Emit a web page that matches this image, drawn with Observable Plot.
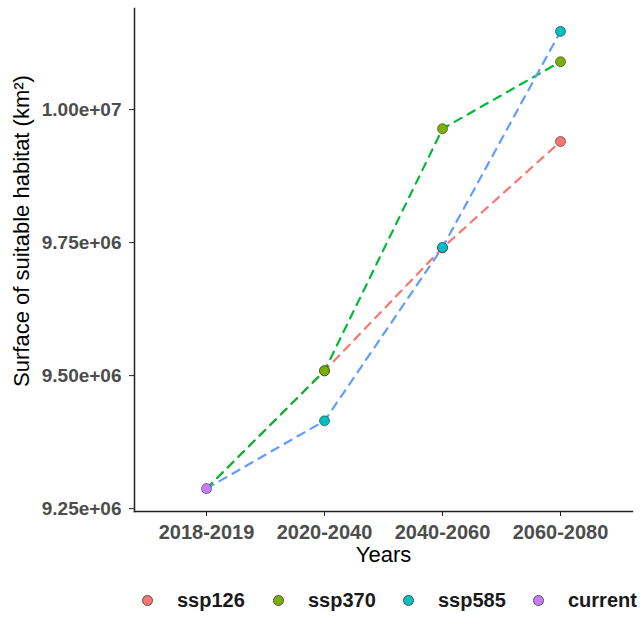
<!DOCTYPE html>
<html>
<head>
<meta charset="utf-8">
<script src="https://cdn.jsdelivr.net/npm/d3@7"></script>
<script src="https://cdn.jsdelivr.net/npm/@observablehq/plot@0.6"></script>
<style>
  body { margin: 0; background: #fff; font-family: "Liberation Sans", Arial, sans-serif; }
  #legend { height: 50px; position: relative; width: 642px; }
  .item { position: absolute; top: 0; height: 50px; display: flex; align-items: center; white-space: nowrap; }
  .dot { width: 11px; height: 11px; border-radius: 50%; box-sizing: border-box; border: 0.6px solid #555; margin-right: 24.5px; }
  .lab { font-size: 20px; font-weight: bold; color: #1a1a1a; }
</style>
</head>
<body>
<div id="chart"></div>
<div id="legend"></div>
<script>
const periods = ["2018-2019", "2020-2040", "2040-2060", "2060-2080"];
const scenarios = ["ssp126", "ssp370", "ssp585"];
const currentValue = 9.2876e6;
// values for 2020-2040, 2040-2060, 2060-2080
const ssp126 = [9.509e6, 9.740e6, 9.940e6];
const ssp370 = [9.509e6, 9.964e6, 10.090e6];
const ssp585 = [9.415e6, 9.741e6, 10.147e6];
const yTicks = [9.25e6, 9.5e6, 9.75e6, 1.0e7];
const pointColors = ["#F8766D", "#7CAE00", "#00BFC4", "#C77CFF"];
const lineColors = ["#F8766D", "#00BA38", "#619CFF"];
const legendKeys = ["ssp126", "ssp370", "ssp585", "current"];

const seriesValues = {ssp126, ssp370, ssp585};
const lineData = [];
const pointData = [];
for (const s of scenarios) {
  lineData.push({scenario: s, period: periods[0], value: currentValue});
  seriesValues[s].forEach((v, i) => {
    lineData.push({scenario: s, period: periods[i + 1], value: v});
    pointData.push({scenario: s, period: periods[i + 1], value: v});
  });
}
pointData.push({scenario: "current", period: periods[0], value: currentValue});

function sci(v) {
  const [m, e] = v.toExponential(2).split("e");
  const sign = e[0];
  const digits = e.slice(1).padStart(2, "0");
  return m + "e" + sign + digits;
}

const lineMarks = scenarios.map((s, i) =>
  Plot.lineY(lineData.filter(d => d.scenario === s), {
    x: "period", y: "value", stroke: lineColors[i], strokeWidth: 2.2, strokeDasharray: "8,7"
  })
);

const chart = Plot.plot({
  width: 642,
  height: 575,
  marginLeft: 134,
  marginRight: 10,
  marginTop: 8,
  marginBottom: 64,
  style: {fontFamily: "Liberation Sans, Arial, sans-serif", background: "#fff"},
  x: {type: "point", domain: periods, padding: 0.6},
  y: {domain: [9.2446e6, 10.19e6]},
  color: {domain: legendKeys, range: pointColors},
  marks: [
    ...lineMarks,
    Plot.dot(pointData, {x: "period", y: "value", fill: "scenario", r: 5, stroke: "#333", strokeWidth: 0.6}),
    Plot.frame({anchor: "left", stroke: "#222", strokeWidth: 1.5}),
    Plot.frame({anchor: "bottom", stroke: "#222", strokeWidth: 1.5}),
    Plot.axisY({ticks: yTicks, tickFormat: sci, tickSize: 5, tickPadding: 8, fontSize: 19, fontWeight: "bold", color: "#4D4D4D", stroke: "#222", label: null}),
    Plot.axisX({tickSize: 5, tickPadding: 8, fontSize: 20, fontWeight: "bold", color: "#4D4D4D", stroke: "#222", label: null}),
    Plot.text(["Surface of suitable habitat (km²)"], {frameAnchor: "left", dx: -113, dy: -29, rotate: -90, fontSize: 22, fill: "#000", textAnchor: "middle", lineAnchor: "middle"}),
    Plot.text(["Years"], {frameAnchor: "bottom", dy: 43, fontSize: 22, fill: "#000", textAnchor: "middle", lineAnchor: "middle"})
  ]
});
document.getElementById("chart").appendChild(chart);

const legend = document.getElementById("legend");
const lefts = [141.5, 272.5, 402.5, 532.5];
legendKeys.forEach((k, i) => {
  const item = document.createElement("div");
  item.className = "item";
  item.style.left = lefts[i] + "px";
  const dot = document.createElement("div");
  dot.className = "dot";
  dot.style.background = pointColors[i];
  const lab = document.createElement("span");
  lab.className = "lab";
  lab.textContent = k;
  item.appendChild(dot);
  item.appendChild(lab);
  legend.appendChild(item);
});
</script>
</body>
</html>
